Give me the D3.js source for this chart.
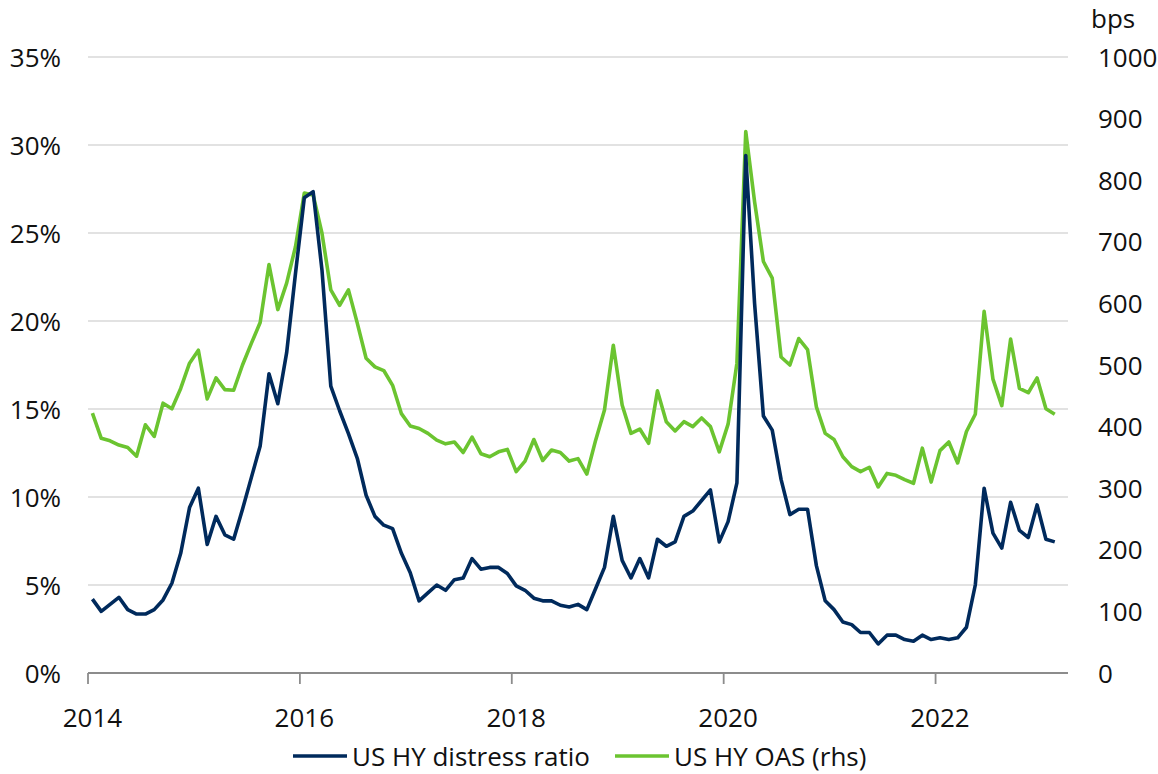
<!DOCTYPE html>
<html>
<head>
<meta charset="utf-8">
<script src="https://cdnjs.cloudflare.com/ajax/libs/d3/7.8.5/d3.min.js"></script>
<style>
  html, body { margin: 0; padding: 0; background: #fff; }
  svg { display: block; font-family: "Open Sans", "Noto Sans", sans-serif; }
</style>
</head>
<body>
<svg id="chart" width="1158" height="774"></svg>
<script>
// Monthly observations, Jan 2014 – Feb 2023
const startMonth = new Date(2014, 0, 1);
const endMonth = new Date(2023, 2, 1); // exclusive; axis keeps one empty slot (Mar 2023)

// US HY distress ratio, % of issues
const distressRatio = [
  4.2, 3.5, 3.9, 4.3, 3.6, 3.35, 3.35, 3.6, 4.15, 5.1, 6.8, 9.4,
  10.5, 7.3, 8.9, 7.85, 7.6, 9.3, 11.1, 12.9, 17.0, 15.3, 18.2, 22.7,
  27.0, 27.35, 22.9, 16.3, 14.9, 13.6, 12.2, 10.1, 8.9, 8.4, 8.2, 6.8,
  5.7, 4.1, 4.55, 5.0, 4.7, 5.3, 5.4, 6.5, 5.9, 6.0, 6.0, 5.65,
  4.95, 4.7, 4.25, 4.1, 4.1, 3.85, 3.75, 3.9, 3.6, 4.8, 6.0, 8.9,
  6.4, 5.4, 6.5, 5.4, 7.6, 7.2, 7.45, 8.9, 9.2, 9.8, 10.4, 7.45,
  8.6, 10.8, 29.4, 21.0, 14.6, 13.8, 11.0, 9.0, 9.3, 9.3, 6.1, 4.1,
  3.6, 2.9, 2.75, 2.3, 2.3, 1.65, 2.15, 2.15, 1.9, 1.8, 2.15, 1.9,
  2.0, 1.9, 2.0, 2.6, 5.0, 10.5, 7.95, 7.1, 9.7, 8.1, 7.7, 9.55,
  7.6, 7.45
];

// US HY option-adjusted spread, bps
const oasBps = [
  422, 381, 377, 370, 366, 352, 403, 384, 438, 429, 462, 503,
  524, 445, 479, 460, 459, 500, 535, 569, 663, 590, 633, 692,
  779, 776, 714, 622, 597, 622, 568, 511, 497, 491, 467, 421,
  401, 397, 389, 378, 372, 375, 358, 383, 356, 351, 359, 363,
  327, 344, 379, 345, 362, 358, 344, 348, 323, 378, 427, 532,
  435, 389, 396, 373, 458, 408, 393, 408, 400, 414, 400, 359,
  404, 503, 879, 765, 668, 641, 513, 500, 543, 525, 432, 389,
  379, 351, 335, 327, 334, 302, 324, 321, 314, 308, 365, 310,
  361, 375, 341, 392, 420, 587, 477, 434, 542, 462, 455, 479,
  429, 420
];

const leftTicks = [0, 5, 10, 15, 20, 25, 30, 35];
const rightTicks = [0, 100, 200, 300, 400, 500, 600, 700, 800, 900, 1000];
const yearLabels = [2014, 2016, 2018, 2020, 2022];
const seriesNames = ["US HY distress ratio", "US HY OAS (rhs)"];
const colors = { distress: "#002A5C", oas: "#6BC430", grid: "#D9D9D9", axis: "#8C8C8C", text: "#111" };
const fontSize = 26;

const months = d3.timeMonth.range(startMonth, endMonth);
const slotCount = d3.timeMonth.count(startMonth, endMonth) + 1;

const svg = d3.select("#chart");
const plot = { left: 88, right: 1068, top: 57, bottom: 673 };

// Category axis: each month owns one slot, points sit at slot centres
const x = d3.scaleLinear().domain([0, slotCount]).range([plot.left, plot.right]);
const yL = d3.scaleLinear().domain([0, 35]).range([plot.bottom, plot.top]);
const yR = d3.scaleLinear().domain([0, 1000]).range([plot.bottom, plot.top]);

// Horizontal gridlines from the left axis
svg.append("g")
  .selectAll("line")
  .data(leftTicks.filter(d => d > 0))
  .join("line")
  .attr("x1", plot.left).attr("x2", plot.right)
  .attr("y1", d => yL(d)).attr("y2", d => yL(d))
  .attr("stroke", colors.grid).attr("stroke-width", 1.5);

// Left axis labels
const leftAxis = d3.axisLeft(yL).tickValues(leftTicks).tickFormat(d => d + "%").tickSize(0).tickPadding(0);
const gL = svg.append("g").attr("transform", "translate(61,0)").call(leftAxis);
gL.select(".domain").remove();
gL.selectAll("text").attr("font-size", fontSize).attr("fill", colors.text).attr("dy", "0.35em");
gL.attr("font-family", null);

// Right axis labels
const rightAxis = d3.axisRight(yR).tickValues(rightTicks).tickFormat(d3.format("d")).tickSize(0).tickPadding(0);
const gR = svg.append("g").attr("transform", "translate(1098,0)").call(rightAxis);
gR.select(".domain").remove();
gR.selectAll("text").attr("font-size", fontSize).attr("fill", colors.text).attr("dy", "0.35em");
gR.attr("font-family", null);

svg.append("text")
  .attr("x", 1091).attr("y", 28)
  .attr("font-size", fontSize).attr("fill", colors.text)
  .text("bps");

// Bottom category axis: ticks at slot boundaries every two years, labels at slot centres
const yearIndex = yearLabels.map(yr => d3.timeMonth.count(startMonth, new Date(yr, 0, 1)));
svg.append("line")
  .attr("x1", plot.left).attr("x2", plot.right)
  .attr("y1", plot.bottom).attr("y2", plot.bottom)
  .attr("stroke", colors.axis).attr("stroke-width", 1.8);
svg.append("g").selectAll("line")
  .data(yearIndex)
  .join("line")
  .attr("x1", d => x(d)).attr("x2", d => x(d))
  .attr("y1", plot.bottom).attr("y2", plot.bottom + 11)
  .attr("stroke", colors.axis).attr("stroke-width", 1.8);
svg.append("g").selectAll("text")
  .data(yearLabels)
  .join("text")
  .attr("x", (d, i) => x(yearIndex[i] + 0.5))
  .attr("y", 727)
  .attr("text-anchor", "middle")
  .attr("font-size", fontSize).attr("fill", colors.text)
  .text(d => d);

// Series lines
const lineL = d3.line().x((d, i) => x(i + 0.5)).y(d => yL(d));
const lineR = d3.line().x((d, i) => x(i + 0.5)).y(d => yR(d));

svg.append("path")
  .datum(oasBps)
  .attr("d", lineR)
  .attr("fill", "none").attr("stroke", colors.oas)
  .attr("stroke-width", 3.6).attr("stroke-linejoin", "round");

svg.append("path")
  .datum(distressRatio)
  .attr("d", lineL)
  .attr("fill", "none").attr("stroke", colors.distress)
  .attr("stroke-width", 3.6).attr("stroke-linejoin", "round");

// Legend
const legend = [
  { name: seriesNames[0], color: colors.distress, x: 293 },
  { name: seriesNames[1], color: colors.oas, x: 615 }
];
const lg = svg.append("g").selectAll("g").data(legend).join("g")
  .attr("transform", d => `translate(${d.x},0)`);
lg.append("line")
  .attr("x1", 0).attr("x2", 54).attr("y1", 756).attr("y2", 756)
  .attr("stroke", d => d.color).attr("stroke-width", 3.6);
lg.append("text")
  .attr("x", 59).attr("y", 766)
  .attr("font-size", fontSize).attr("fill", colors.text)
  .text(d => d.name);
</script>
</body>
</html>
